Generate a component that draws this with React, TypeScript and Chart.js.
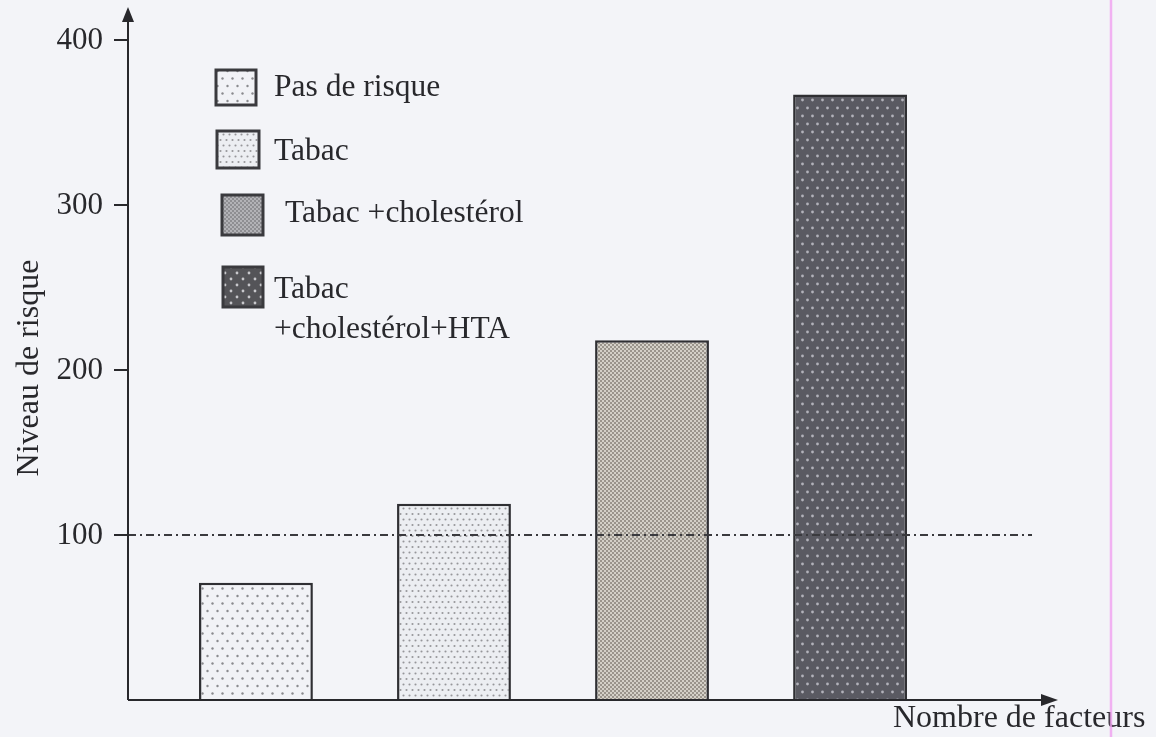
import React, { useEffect, useRef } from "react";
import { Chart, registerables } from "chart.js";

Chart.register(...registerables);

// ---- data ----
const factorCounts = [0, 1, 2, 3];
const riskLevels = [71, 119, 218, 367];
const seriesLabels = ["Pas de risque", "Tabac", "Tabac +cholestérol", "Tabac\n+cholestérol+HTA"];
const yTickValues = [100, 200, 300, 400];
const referenceLevel = 100;
const xTitle = "Nombre de facteurs";
const yTitle = "Niveau de risque";

const FONT = "'Liberation Serif', 'DejaVu Serif', serif";
const INK = "#28282c";
const BG = "#f3f4f8";

function makeTile(w: number, h: number, draw: (c: CanvasRenderingContext2D) => void): CanvasPattern {
  const cv = document.createElement("canvas");
  cv.width = w;
  cv.height = h;
  const c = cv.getContext("2d")!;
  draw(c);
  return c.createPattern(cv, "repeat")!;
}

function dot(c: CanvasRenderingContext2D, x: number, y: number, r: number) {
  c.beginPath();
  c.arc(x, y, r, 0, Math.PI * 2);
  c.fill();
}

function makePatterns() {
  const p1 = makeTile(10, 15, (c) => {
    c.fillStyle = "#f1f2f6";
    c.fillRect(0, 0, 10, 15);
    c.fillStyle = "#8a8a8e";
    dot(c, 2.5, 3.5, 1.2);
    dot(c, 7.5, 11, 1.2);
  });
  const p2 = makeTile(6, 11, (c) => {
    c.fillStyle = "#eceef2";
    c.fillRect(0, 0, 6, 11);
    c.fillStyle = "#96969a";
    dot(c, 1.5, 2.5, 1.05);
    dot(c, 4.5, 8, 1.05);
  });
  const p3 = makeTile(4, 4, (c) => {
    c.fillStyle = "#d4d0c8";
    c.fillRect(0, 0, 4, 4);
    c.fillStyle = "#9a948c";
    c.fillRect(0, 0, 2, 2);
    c.fillRect(2, 2, 2, 2);
  });
  const p4 = makeTile(10, 16, (c) => {
    c.fillStyle = "#5a5a62";
    c.fillRect(0, 0, 10, 16);
    c.fillStyle = "#b2b2ba";
    dot(c, 2.5, 4, 1.4);
    dot(c, 7.5, 12, 1.4);
  });
  const l3 = makeTile(4, 4, (c) => {
    c.fillStyle = "#8e8e92";
    c.fillRect(0, 0, 4, 4);
    c.fillStyle = "#c4c4c8";
    dot(c, 1, 1, 0.9);
    dot(c, 3, 3, 0.9);
  });
  const l4 = makeTile(12, 12, (c) => {
    c.fillStyle = "#545458";
    c.fillRect(0, 0, 12, 12);
    c.fillStyle = "#c8c8cc";
    dot(c, 3, 3, 1.4);
    dot(c, 9, 9, 1.4);
  });
  return { bars: [p1, p2, p3, p4], legend: [p1, p2, l3, l4] };
}

export default function App() {
  const ref = useRef<HTMLCanvasElement | null>(null);

  useEffect(() => {
    const canvas = ref.current;
    if (!canvas) return;
    const pats = makePatterns();

    const decor = {
      id: "decor",
      afterDatasetsDraw(chart: any) {
        const ctx: CanvasRenderingContext2D = chart.ctx;
        const { left, right, top, bottom } = chart.chartArea;
        const ys = chart.scales.y;
        ctx.save();

        // reference dash-dot line
        const yr = ys.getPixelForValue(referenceLevel);
        ctx.strokeStyle = "#3a3a3e";
        ctx.lineWidth = 2;
        ctx.setLineDash([8, 4, 2, 4]);
        ctx.beginPath();
        ctx.moveTo(left, yr);
        ctx.lineTo(right - 26, yr);
        ctx.stroke();
        ctx.setLineDash([]);

        // axes
        ctx.strokeStyle = INK;
        ctx.fillStyle = INK;
        ctx.lineWidth = 2;
        ctx.beginPath();
        ctx.moveTo(left, bottom);
        ctx.lineTo(left, top + 12);
        ctx.moveTo(left, bottom);
        ctx.lineTo(right - 12, bottom);
        ctx.stroke();
        // arrows
        ctx.beginPath();
        ctx.moveTo(left, top);
        ctx.lineTo(left - 6, top + 15);
        ctx.lineTo(left + 6, top + 15);
        ctx.closePath();
        ctx.fill();
        ctx.beginPath();
        ctx.moveTo(right, bottom);
        ctx.lineTo(right - 17, bottom - 6);
        ctx.lineTo(right - 17, bottom + 6);
        ctx.closePath();
        ctx.fill();

        // ticks + labels
        ctx.font = `31px ${FONT}`;
        ctx.textAlign = "right";
        ctx.textBaseline = "middle";
        yTickValues.forEach((v) => {
          const y = ys.getPixelForValue(v);
          ctx.beginPath();
          ctx.moveTo(left - 14, y);
          ctx.lineTo(left, y);
          ctx.stroke();
          ctx.fillText(String(v), left - 25, y + 1);
        });

        // axis titles
        ctx.font = `32px ${FONT}`;
        ctx.textAlign = "left";
        ctx.textBaseline = "alphabetic";
        ctx.fillText(xTitle, 893, 727);
        ctx.save();
        ctx.translate(30, 368);
        ctx.rotate(-Math.PI / 2);
        ctx.font = `32px ${FONT}`;
        ctx.textAlign = "center";
        ctx.textBaseline = "middle";
        ctx.fillText(yTitle, 0, 0);
        ctx.restore();

        // legend
        ctx.font = `31.5px ${FONT}`;
        const boxes = [
          [216, 70, 40, 35],
          [217, 131, 42, 37],
          [222, 195, 41, 40],
          [223, 267, 40, 40],
        ];
        const textX = [274, 274, 285, 274];
        const textY = [88, 152, 214, 290];
        seriesLabels.forEach((lab, i) => {
          const [bx, by, bw, bh] = boxes[i];
          ctx.fillStyle = pats.legend[i];
          ctx.fillRect(bx, by, bw, bh);
          ctx.strokeStyle = "#3a3a3e";
          ctx.lineWidth = 3;
          ctx.strokeRect(bx, by, bw, bh);
          ctx.fillStyle = INK;
          ctx.textAlign = "left";
          ctx.textBaseline = "middle";
          lab.split("\n").forEach((line, k) => {
            ctx.fillText(line, textX[i], textY[i] + k * 40);
          });
        });

        // scanner artifact (pink vertical line)
        ctx.strokeStyle = "rgba(240,160,240,0.8)";
        ctx.lineWidth = 2.5;
        ctx.beginPath();
        ctx.moveTo(1111, 0);
        ctx.lineTo(1111, chart.height);
        ctx.stroke();

        ctx.restore();
      },
    };

    const chart = new Chart(canvas, {
      type: "bar",
      data: {
        datasets: [
          {
            label: "Niveau de risque",
            data: factorCounts.map((x, i) => ({ x, y: riskLevels[i] })),
            backgroundColor: pats.bars as any,
            borderColor: "#2f2f33",
            borderWidth: 2.5,
            borderSkipped: "bottom",
            categoryPercentage: 1,
            barPercentage: 0.575,
          } as any,
        ],
      },
      options: {
        responsive: false,
        animation: false,
        layout: { padding: { left: 128, right: 98, top: 7, bottom: 37 } },
        plugins: { legend: { display: false }, tooltip: { enabled: false } },
        scales: {
          x: {
            type: "linear",
            min: -0.646,
            max: 4.05,
            offset: false,
            display: false,
            afterBuildTicks: (scale: any) => {
              scale.ticks = factorCounts.map((v) => ({ value: v }));
            },
          },
          y: { type: "linear", min: 0, max: 420, display: false },
        },
      },
      plugins: [decor],
    });
    return () => chart.destroy();
  }, []);

  return (
    <div style={{ position: "fixed", left: 0, top: 0, width: 1156, height: 737, background: BG }}>
      <canvas ref={ref} width={1156} height={737} style={{ display: "block" }} />
    </div>
  );
}
